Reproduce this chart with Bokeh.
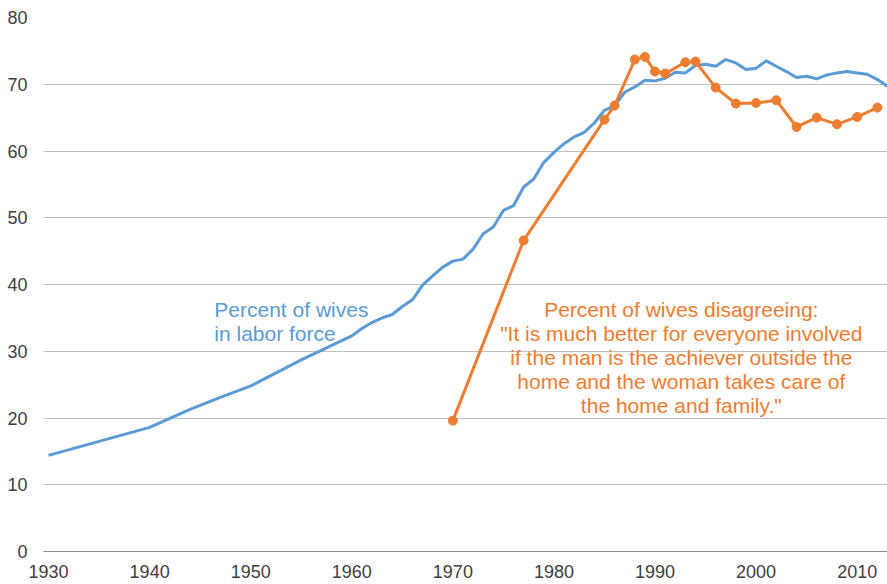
from bokeh.plotting import figure
from bokeh.models import Range1d, FixedTicker
from bokeh.core.properties import value
from bokeh.embed import file_html
from bokeh.resources import INLINE

# ---- data ----
lf_years = [1930, 1940, 1944, 1947, 1950, 1955, 1960, 1961, 1962, 1963, 1964, 1965,
            1966, 1967, 1968, 1969, 1970, 1971, 1972, 1973, 1974, 1975, 1976, 1977,
            1978, 1979, 1980, 1981, 1982, 1983, 1984, 1985, 1986, 1987, 1988, 1989,
            1990, 1991, 1992, 1993, 1994, 1995, 1996, 1997, 1998, 1999, 2000, 2001,
            2002, 2003, 2004, 2005, 2006, 2007, 2008, 2009, 2010, 2011, 2012, 2013]
lf_values = [14.4, 18.6, 21.3, 23.1, 24.8, 28.7, 32.3, 33.4, 34.3, 35.0, 35.5, 36.7,
             37.7, 39.9, 41.3, 42.6, 43.5, 43.8, 45.3, 47.6, 48.6, 51.1, 51.8, 54.6,
             55.8, 58.3, 59.8, 61.1, 62.1, 62.8, 64.2, 66.1, 66.8, 68.8, 69.6, 70.6,
             70.5, 70.9, 71.8, 71.7, 72.8, 73.0, 72.7, 73.7, 73.2, 72.2, 72.4, 73.5,
             72.7, 71.9, 71.0, 71.2, 70.8, 71.4, 71.7, 71.9, 71.7, 71.5, 70.7, 69.7]

dis_years = [1970, 1977, 1985, 1986, 1988, 1989, 1990, 1991, 1993, 1994, 1996, 1998,
             2000, 2002, 2004, 2006, 2008, 2010, 2012]
dis_values = [19.6, 46.6, 64.7, 66.8, 73.7, 74.1, 71.9, 71.6, 73.3, 73.4, 69.5, 67.1,
              67.2, 67.6, 63.6, 65.0, 64.0, 65.1, 66.5]

x_ticks = [1930, 1940, 1950, 1960, 1970, 1980, 1990, 2000, 2010]
y_ticks = [0, 10, 20, 30, 40, 50, 60, 70, 80]

lf_label = "Percent of wives\nin labor force"
dis_label = ("Percent of wives disagreeing:\n"
             "\"It is much better for everyone involved\n"
             "if the man is the achiever outside the\n"
             "home and the woman takes care of\n"
             "the home and family.\"")

BLUE = "#5B9BD5"
ORANGE = "#ED7D31"
FONT = "Liberation Sans"

p = figure(width=887, height=584, output_backend="svg", toolbar_location=None,
           x_range=Range1d(1929.5, 2013.0), y_range=Range1d(0, 80))
p.min_border_left = 43
p.min_border_right = 0
p.min_border_top = 17
p.min_border_bottom = 33
p.outline_line_color = None
p.background_fill_color = "white"

p.xgrid.grid_line_color = None
p.ygrid.grid_line_color = "#BFBFBF"
p.ygrid.grid_line_width = 1
p.ygrid.ticker = FixedTicker(ticks=y_ticks)

p.xaxis.ticker = FixedTicker(ticks=x_ticks)
p.xaxis.axis_line_color = "#8C8C8C"
p.xaxis.axis_line_width = 1
p.xaxis.major_tick_line_color = None
p.xaxis.minor_tick_line_color = None
p.xaxis.major_tick_out = 0
p.xaxis.major_label_standoff = 13
p.xaxis.major_label_text_font = FONT
p.xaxis.major_label_text_font_size = "18px"
p.xaxis.major_label_text_color = "#404040"

p.yaxis.ticker = FixedTicker(ticks=y_ticks)
p.yaxis.axis_line_color = None
p.yaxis.major_tick_line_color = None
p.yaxis.minor_tick_line_color = None
p.yaxis.major_tick_out = 0
p.yaxis.major_label_standoff = 16
p.yaxis.major_label_text_font = FONT
p.yaxis.major_label_text_font_size = "18px"
p.yaxis.major_label_text_color = "#404040"

p.line(lf_years, lf_values, line_color=BLUE, line_width=3, line_join="round")
p.line(dis_years, dis_values, line_color=ORANGE, line_width=3, line_join="round")
p.scatter(dis_years, dis_values, size=9, fill_color=ORANGE, line_color=ORANGE)

p.text(x=[1946.4], y=[38.0], text=[lf_label], text_color=BLUE,
       text_font=value(FONT), text_font_size="21px", text_align="left",
       text_baseline="top", text_line_height=1.04)
p.text(x=[1992.6], y=[38.0], text=[dis_label], text_color=ORANGE,
       text_font=value(FONT), text_font_size="21px", text_align="center",
       text_baseline="top", text_line_height=1.04)

open("out.html", "w").write(file_html(p, INLINE))
